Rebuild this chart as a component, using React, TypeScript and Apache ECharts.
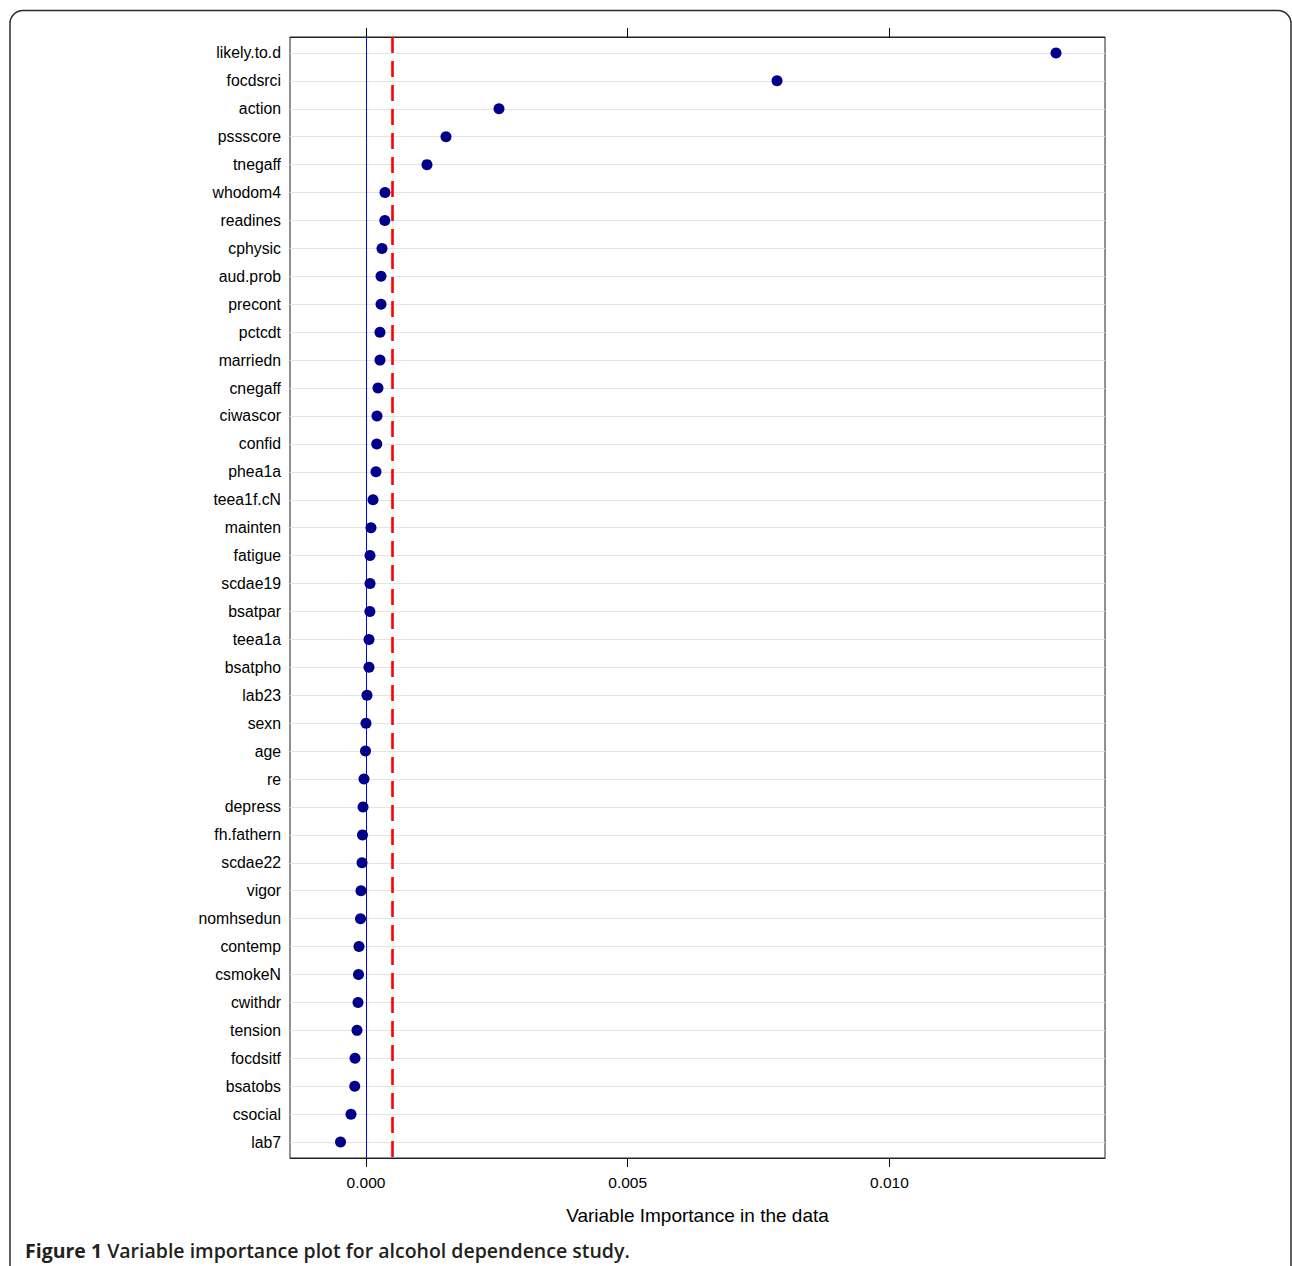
import React, { useEffect, useRef } from "react";
import * as echarts from "echarts";

const categories: string[] = [
  "likely.to.d", "focdsrci", "action", "pssscore", "tnegaff", "whodom4", "readines", "cphysic",
  "aud.prob", "precont", "pctcdt", "marriedn", "cnegaff", "ciwascor", "confid", "phea1a",
  "teea1f.cN", "mainten", "fatigue", "scdae19", "bsatpar", "teea1a", "bsatpho", "lab23",
  "sexn", "age", "re", "depress", "fh.fathern", "scdae22", "vigor", "nomhsedun",
  "contemp", "csmokeN", "cwithdr", "tension", "focdsitf", "bsatobs", "csocial", "lab7",
];

const importance: number[] = [
  0.013183, 0.007853, 0.002541, 0.001528, 0.001165, 0.000363, 0.000360, 0.000306,
  0.000287, 0.000287, 0.000267, 0.000267, 0.000229, 0.00021, 0.000205, 0.000191,
  0.000134, 0.0000955, 0.0000764, 0.0000764, 0.0000740, 0.0000573, 0.0000573, 0.0000191,
  0.0, -0.00001, -0.000038, -0.000057, -0.000067, -0.000076, -0.000096, -0.000105,
  -0.000134, -0.000143, -0.000153, -0.000172, -0.00021, -0.000215, -0.000287, -0.000487,
];

const xTicks: number[] = [0, 0.005, 0.01];
const zeroLine = 0;
const thresholdLine = 0.000495;

const xMin = -0.001452;
const xMax = 0.014119;

const xTitle = "Variable Importance in the data";
const captionBold = "Figure 1";
const captionText = " Variable importance plot for alcohol dependence study.";

export default function App() {
  const ref = useRef<HTMLDivElement>(null);
  useEffect(() => {
    if (!ref.current) return;
    const chart = echarts.init(ref.current, null, { renderer: "svg" });
    const font = "Liberation Sans, Arial, Helvetica, sans-serif";
    const capFont = "Open Sans, Noto Sans, sans-serif";
    const yIdx = categories.map((_, i) => i + 1);
    chart.setOption({
      animation: false,
      backgroundColor: "#ffffff",
      grid: {
        left: 290,
        top: 37,
        width: 815,
        height: 1121,
        show: true,
        borderColor: "#222",
        borderWidth: 1,
        backgroundColor: "transparent",
      },
      xAxis: [
        {
          type: "value",
          position: "bottom",
          min: xMin,
          max: xMax,
          axisLine: { show: true, lineStyle: { color: "#222", width: 1 } },
          axisTick: { show: true, length: 9, customValues: xTicks, lineStyle: { color: "#000", width: 1 } },
          axisLabel: {
            show: true,
            customValues: xTicks,
            margin: 16,
            fontSize: 15.5,
            fontFamily: font,
            color: "#000",
            formatter: (v: number) => v.toFixed(3),
          },
          splitLine: { show: false },
        },
        {
          type: "value",
          position: "top",
          min: xMin,
          max: xMax,
          axisLine: { show: true, lineStyle: { color: "#222", width: 1 } },
          axisTick: { show: true, length: 9, customValues: xTicks, lineStyle: { color: "#000", width: 1 } },
          axisLabel: { show: false },
          splitLine: { show: false },
        },
      ],
      yAxis: {
        type: "value",
        inverse: true,
        min: 0.43,
        max: 40.57,
        axisLine: { show: true, lineStyle: { color: "#555", width: 1 } },
        axisTick: { show: false },
        axisLabel: {
          show: true,
          customValues: yIdx,
          margin: 9,
          fontSize: 15.8,
          fontFamily: font,
          color: "#000",
          formatter: (v: number) => categories[Math.round(v) - 1] ?? "",
        },
        splitLine: { show: false },
      },
      series: [
        {
          type: "scatter",
          data: [],
          z: 1,
          silent: true,
          markLine: {
            silent: true,
            precision: 8,
            symbol: ["none", "none"],
            label: { show: false },
            animation: false,
            data: [
              ...yIdx.map((y) => ({ yAxis: y, lineStyle: { color: "#e4e4e4", width: 1, type: "solid" } })),
              { xAxis: zeroLine, lineStyle: { color: "#0000ff", width: 1, type: "solid" } },
              { xAxis: thresholdLine, lineStyle: { color: "#ff0000", width: 2.6, type: [16, 8] } },
            ],
          },
        },
        {
          type: "scatter",
          z: 5,
          symbol: "circle",
          symbolSize: 11,
          itemStyle: { color: "#00008b", opacity: 1 },
          data: importance.map((v, i) => [v, i + 1]),
        },
      ],
      graphic: [
        {
          type: "rect",
          shape: { x: 10, y: 10.5, width: 1281, height: 1320, r: 13 },
          style: { fill: "none", stroke: "#2a2a2a", lineWidth: 1.5 },
          silent: true,
          z: -1,
        },
        {
          type: "text",
          x: 697.5,
          y: 1215,
          style: {
            text: xTitle,
            fontSize: 19,
            fontFamily: font,
            fill: "#000",
            align: "center",
            verticalAlign: "middle",
          },
        },
        {
          type: "text",
          x: 25,
          y: 1250,
          style: {
            text: `{b|${captionBold}}{n|${captionText}}`,
            verticalAlign: "middle",
            align: "left",
            rich: {
              b: { fontSize: 19.5, fontWeight: "bold", fontFamily: capFont, fill: "#231f20" },
              n: { fontSize: 19.5, fontWeight: 600, fontFamily: capFont, fill: "#231f20" },
            },
          },
        },
      ],
    });
    return () => chart.dispose();
  }, []);
  return (
    <div
      ref={ref}
      style={{ position: "absolute", left: 0, top: 0, width: 1292, height: 1266 }}
    />
  );
}
